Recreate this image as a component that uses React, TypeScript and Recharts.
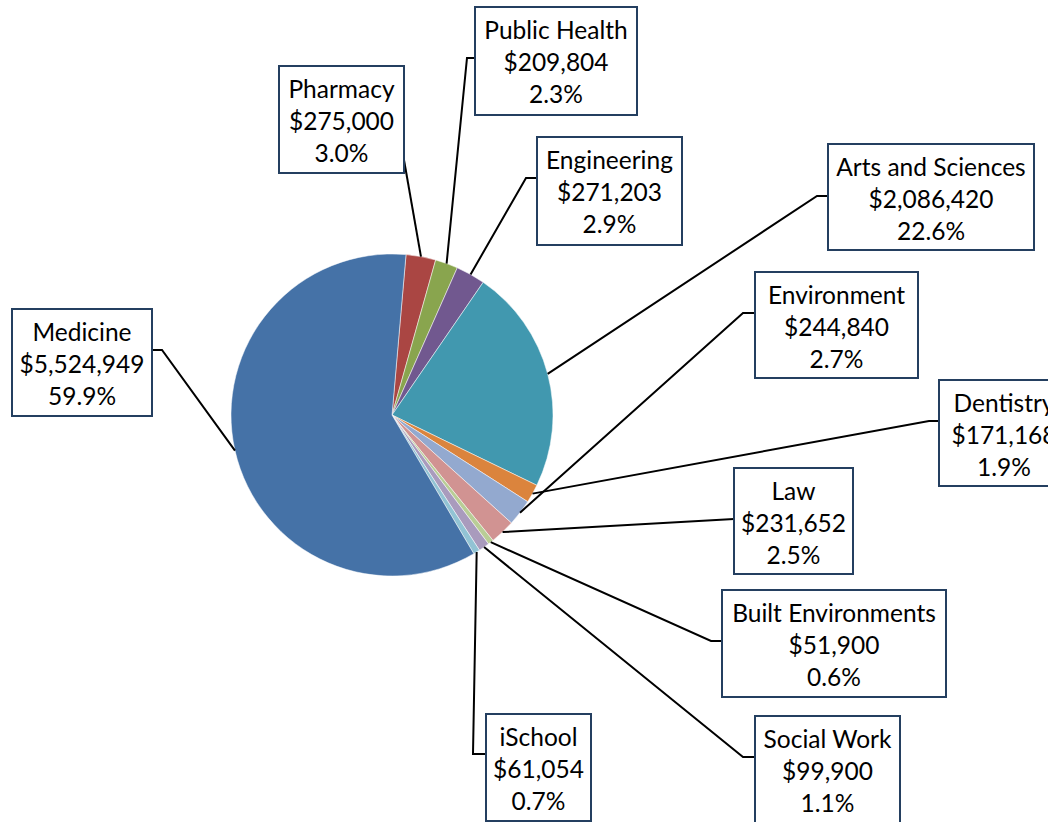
import React from 'react';
import { PieChart, Pie, Cell } from 'recharts';

const schools = [
  'Pharmacy',
  'Public Health',
  'Engineering',
  'Arts and Sciences',
  'Dentistry',
  'Environment',
  'Law',
  'Built Environments',
  'Social Work',
  'iSchool',
  'Medicine',
];
const amounts = [275000, 209804, 271203, 2086420, 171168, 244840, 231652, 51900, 99900, 61054, 5524949];
const colors = [
  '#AA4643',
  '#89A54E',
  '#71588F',
  '#4198AF',
  '#DB843D',
  '#93A9CF',
  '#D19392',
  '#B9CD96',
  '#A99BBD',
  '#92C3D4',
  '#4572A7',
];

// label box layout: x, y, w, h, attach side, attach y, elbow x
const boxes = [
  { x: 279, y: 66, w: 125, h: 107, side: 'right', ay: 160, ex: 404 },
  { x: 475, y: 7, w: 162, h: 108, side: 'left', ay: 58, ex: 467 },
  { x: 537, y: 137, w: 145, h: 108, side: 'left', ay: 178, ex: 526 },
  { x: 828, y: 144, w: 206, h: 106, side: 'left', ay: 196, ex: 817 },
  { x: 939, y: 380, w: 130, h: 106, side: 'left', ay: 421, ex: 929 },
  { x: 755, y: 272, w: 163, h: 106, side: 'left', ay: 313, ex: 743 },
  { x: 734, y: 468, w: 119, h: 106, side: 'left', ay: 519, ex: 734 },
  { x: 722, y: 590, w: 224, h: 107, side: 'left', ay: 641, ex: 711 },
  { x: 755, y: 716, w: 145, h: 110, side: 'left', ay: 757, ex: 743 },
  { x: 486, y: 714, w: 105, h: 107, side: 'left', ay: 754, ex: 473 },
  { x: 12, y: 309, w: 140, h: 107, side: 'right', ay: 350, ex: 162 },
];

const total = amounts.reduce((a, b) => a + b, 0);
const data = schools.map((name, i) => ({ name, value: amounts[i] }));

const RAD = Math.PI / 180;

const renderLabel = (props: any) => {
  const { cx, cy, midAngle, outerRadius, index, value, name } = props;
  const b = boxes[index];
  const px = cx + outerRadius * Math.cos(-midAngle * RAD);
  const py = cy + outerRadius * Math.sin(-midAngle * RAD);
  const attachX = b.side === 'left' ? b.x : b.x + b.w;
  const pts = `${px},${py} ${b.ex},${b.ay} ${attachX},${b.ay}`;
  const tx = b.x + b.w / 2;
  const pct = ((value / total) * 100).toFixed(1) + '%';
  const money = '$' + Number(value).toLocaleString('en-US');
  const font = { fontFamily: 'Lato, Carlito, sans-serif', fontSize: 24.5, fill: '#000' };
  return (
    <g key={`lbl-${index}`}>
      <polyline points={pts} fill="none" stroke="#000" strokeWidth={2} />
      <rect x={b.x} y={b.y} width={b.w} height={b.h} fill="#fff" stroke="#243F60" strokeWidth={2} />
      <text x={tx} y={b.y + 32} textAnchor="middle" {...font}>{name}</text>
      <text x={tx} y={b.y + 64} textAnchor="middle" {...font}>{money}</text>
      <text x={tx} y={b.y + 96} textAnchor="middle" {...font}>{pct}</text>
    </g>
  );
};

export default function App() {
  return (
    <div style={{ position: 'absolute', left: 0, top: 0, width: 1048, height: 822, background: '#fff' }}>
      <PieChart width={1048} height={822} margin={{ top: 0, right: 0, bottom: 0, left: 0 }}>
        <Pie
          data={data}
          dataKey="value"
          nameKey="name"
          cx={392}
          cy={415}
          outerRadius={161}
          startAngle={85}
          endAngle={-275}
          isAnimationActive={false}
          stroke="#ffffff"
          strokeWidth={0.5}
          label={renderLabel}
          labelLine={false}
        >
          {data.map((d, i) => (
            <Cell key={d.name} fill={colors[i]} />
          ))}
        </Pie>
      </PieChart>
    </div>
  );
}
